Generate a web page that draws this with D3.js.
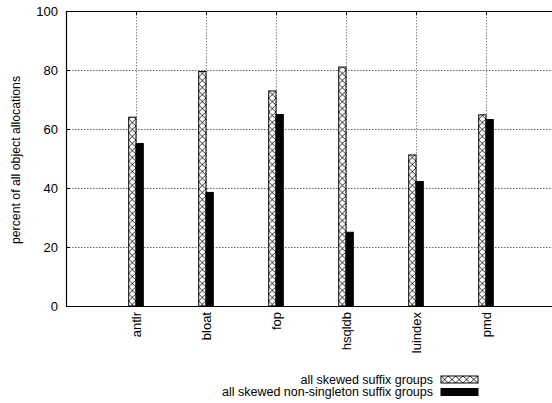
<!DOCTYPE html>
<html>
<head>
<meta charset="utf-8">
<script src="https://cdn.jsdelivr.net/npm/d3@7"></script>
<style>
  html, body { margin: 0; padding: 0; background: #fff; }
  svg { display: block; font-family: "Liberation Sans", Arial, Helvetica, sans-serif; }
</style>
</head>
<body>
<svg id="chart" width="552" height="403"></svg>
<script>
// Benchmarks and per-benchmark shares of object allocations (percent)
const benchmarks = ["antlr", "bloat", "fop", "hsqldb", "luindex", "pmd"];
const allSkewed = [64.0, 79.5, 72.9, 81.0, 51.2, 64.8];
const nonSingleton = [55.1, 38.5, 64.9, 25.0, 42.2, 63.2];
const yTicks = [0, 20, 40, 60, 80, 100];
const seriesNames = ["all skewed suffix groups", "all skewed non-singleton suffix groups"];
const yTitle = "percent of all object allocations";

(function () {
  const svg = d3.select("#chart");
  const plotL = 66, plotR = 556, plotT = 11, plotB = 306;
  const barW = 7.3;

  const x = d3.scalePoint().domain(benchmarks).range([plotL, plotR]).padding(1);
  const y = d3.scaleLinear().domain([0, 100]).range([plotB, plotT]);

  // Cross-hatch fill
  const defs = svg.append("defs");
  const pat = defs.append("pattern")
    .attr("id", "xhatch")
    .attr("patternUnits", "userSpaceOnUse")
    .attr("width", barW).attr("height", 7);
  pat.append("rect").attr("width", barW).attr("height", 7).attr("fill", "#fff");
  pat.append("path")
    .attr("d", `M0,0L${barW},7M${barW},0L0,7`)
    .attr("stroke", "#000").attr("stroke-width", 0.8).attr("fill", "none");

  // Grid lines
  const grid = svg.append("g");
  grid.selectAll("line.h").data(yTicks.filter(t => t > 0 && t < 100)).join("line")
    .attr("class", "h")
    .attr("x1", plotL).attr("x2", 552)
    .attr("y1", d => Math.round(y(d)) + 0.5).attr("y2", d => Math.round(y(d)) + 0.5)
    .attr("stroke", "#666").attr("stroke-dasharray", "1.5,1.5");
  grid.selectAll("line.v").data(benchmarks).join("line")
    .attr("class", "v")
    .attr("x1", d => Math.round(x(d)) + 0.5).attr("x2", d => Math.round(x(d)) + 0.5)
    .attr("y1", plotT).attr("y2", plotB)
    .attr("stroke", "#888").attr("stroke-dasharray", "1.5,1.5");

  // Bars
  const groups = svg.append("g").selectAll("g").data(benchmarks).join("g");
  groups.each(function (d, i) {
    const g = d3.select(this);
    const hx = x(d) - barW;
    g.append("g").attr("transform", `translate(${hx},0)`)
      .append("rect")
      .attr("x", 0).attr("y", y(allSkewed[i]))
      .attr("width", barW).attr("height", y(0) - y(allSkewed[i]))
      .attr("fill", "url(#xhatch)").attr("stroke", "#000").attr("stroke-width", 1);
    g.append("rect")
      .attr("x", x(d)).attr("y", y(nonSingleton[i]))
      .attr("width", barW).attr("height", y(0) - y(nonSingleton[i]))
      .attr("fill", "#000").attr("stroke", "#000").attr("stroke-width", 1);
  });

  // Frame: left, top and bottom borders
  const frame = svg.append("g").attr("stroke", "#000").attr("stroke-width", 1.2);
  frame.append("line").attr("x1", plotL + 0.5).attr("x2", plotL + 0.5).attr("y1", plotT).attr("y2", plotB + 0.5);
  frame.append("line").attr("x1", plotL).attr("x2", 552).attr("y1", plotT + 0.5).attr("y2", plotT + 0.5);
  frame.append("line").attr("x1", plotL).attr("x2", 552).attr("y1", plotB + 0.5).attr("y2", plotB + 0.5);

  // Y axis ticks and labels
  const yAxis = svg.append("g");
  yAxis.selectAll("line").data(yTicks).join("line")
    .attr("x1", plotL).attr("x2", plotL + 4)
    .attr("y1", d => Math.round(y(d)) + 0.5).attr("y2", d => Math.round(y(d)) + 0.5)
    .attr("stroke", "#000");
  yAxis.selectAll("text").data(yTicks).join("text")
    .attr("x", 58).attr("y", d => y(d)).attr("dy", "0.36em")
    .attr("text-anchor", "end").attr("font-size", 13).text(d => d);

  // X axis ticks (top and bottom) and rotated labels
  const xAxis = svg.append("g");
  xAxis.selectAll("line.b").data(benchmarks).join("line")
    .attr("class", "b")
    .attr("x1", d => Math.round(x(d)) + 0.5).attr("x2", d => Math.round(x(d)) + 0.5)
    .attr("y1", plotB).attr("y2", plotB - 4).attr("stroke", "#000");
  xAxis.selectAll("line.t").data(benchmarks).join("line")
    .attr("class", "t")
    .attr("x1", d => Math.round(x(d)) + 0.5).attr("x2", d => Math.round(x(d)) + 0.5)
    .attr("y1", plotT).attr("y2", plotT + 4).attr("stroke", "#000");
  xAxis.selectAll("text").data(benchmarks).join("text")
    .attr("transform", d => `translate(${x(d)},312) rotate(-90)`)
    .attr("dy", "0.36em").attr("text-anchor", "end").attr("font-size", 13)
    .text(d => d);

  // Y title
  svg.append("text")
    .attr("transform", "translate(16,160) rotate(-90)")
    .attr("dy", "0.36em").attr("text-anchor", "middle").attr("font-size", 12.3)
    .text(yTitle);

  // Legend
  const legend = svg.append("g");
  const rows = [
    { name: seriesNames[0], fill: "url(#xhatch)", y: 379.5 },
    { name: seriesNames[1], fill: "#000", y: 392 }
  ];
  rows.forEach(r => {
    legend.append("text").attr("x", 433).attr("y", r.y).attr("dy", "0.34em")
      .attr("text-anchor", "end").attr("font-size", 12.5).text(r.name);
    legend.append("g").attr("transform", `translate(441,${r.y - 3.5})`)
      .append("rect").attr("x", 0).attr("y", 0).attr("width", 37).attr("height", 7)
      .attr("fill", r.fill).attr("stroke", "#000").attr("stroke-width", 1);
  });
})();
</script>
</body>
</html>
